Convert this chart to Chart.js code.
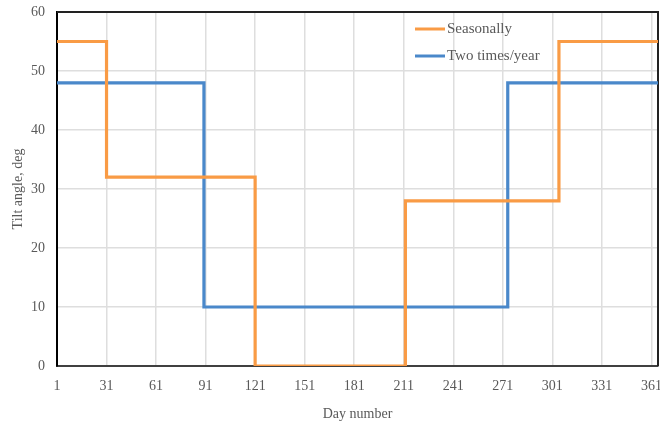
<!DOCTYPE html>
<html>
<head>
<meta charset="utf-8">
<script src="https://cdn.jsdelivr.net/npm/chart.js@4/dist/chart.umd.min.js"></script>
<style>
  html, body { margin: 0; padding: 0; background: #fff; }
  #wrap { width: 660px; height: 423px; }
</style>
</head>
<body>
<div id="wrap"><canvas id="tilt"></canvas></div>
<script>
// day where each step starts, and the tilt angle held from that day on
const seasonalDays = [1, 31, 121, 212, 305, 365];
const seasonalTilt = [55, 32, 0, 28, 55, 55];
const twiceDays = [1, 90, 274, 365];
const twiceTilt = [48, 10, 48, 48];
const xTicks = [1, 31, 61, 91, 121, 151, 181, 211, 241, 271, 301, 331, 361];

const serif = "'Liberation Serif', 'DejaVu Serif', serif";
const gray = "#595959";

function toPoints(days, vals) {
    return days.map((d, i) => ({x: d, y: vals[i]}));
}

// labels may hang over the plot edges, so drop the extra padding
function noOverhang(s) {
    s.paddingLeft = 0;
    s.paddingRight = 0;
    s.paddingTop = 0;
    s.paddingBottom = 0;
}

// frame on top and right plus the legend inside the plot
const frame = {
    id: "frame",
    beforeDatasetsDraw(chart) {
        const {ctx, chartArea: a} = chart;
        ctx.save();
        ctx.lineWidth = 2;
        ctx.strokeStyle = "#222";
        ctx.beginPath();
        ctx.moveTo(a.left, a.top);
        ctx.lineTo(a.right, a.top);
        ctx.lineTo(a.right, a.bottom);
        ctx.stroke();
        ctx.restore();
    },
    afterDraw(chart) {
        const ctx = chart.ctx;
        ctx.save();
        ctx.font = "15px " + serif;
        ctx.textBaseline = "middle";
        chart.data.datasets.forEach((ds, i) => {
            const y = 29 + i * 27;
            ctx.strokeStyle = ds.borderColor;
            ctx.lineWidth = 3;
            ctx.beginPath();
            ctx.moveTo(415, y);
            ctx.lineTo(445, y);
            ctx.stroke();
            ctx.fillStyle = gray;
            ctx.fillText(ds.label, 447, y);
        });
        ctx.restore();
    }
};

new Chart(document.querySelector("#tilt"), {
    type: "line",
    data: {
        datasets: [{
            label: "Seasonally",
            data: toPoints(seasonalDays, seasonalTilt),
            borderColor: "#F99B45",
            borderWidth: 3.2,
            stepped: true,
            pointRadius: 0
        }, {
            label: "Two times/year",
            data: toPoints(twiceDays, twiceTilt),
            borderColor: "#4A88CA",
            borderWidth: 3.2,
            stepped: true,
            pointRadius: 0
        }]
    },
    options: {
        responsive: true,
        maintainAspectRatio: false,
        animation: false,
        layout: {padding: {top: 12, right: 2, left: 0, bottom: 0}},
        plugins: {
            legend: {display: false},
            tooltip: {enabled: false}
        },
        scales: {
            x: {
                type: "linear",
                min: 1,
                max: 365,
                afterBuildTicks: s => { s.ticks = xTicks.map(v => ({value: v})); },
                afterFit: s => { s.height = 57; noOverhang(s); },
                grid: {color: "#dedede", lineWidth: 1.5, drawTicks: false},
                border: {color: "#404040", width: 2},
                ticks: {
                    color: gray,
                    padding: 12,
                    maxRotation: 0,
                    autoSkip: false,
                    font: {family: serif, size: 14}
                },
                title: {
                    display: true,
                    text: "Day number",
                    color: gray,
                    padding: {top: 4, bottom: 0},
                    font: {family: serif, size: 14}
                }
            },
            y: {
                min: 0,
                max: 60,
                afterFit: s => { s.width = 57; noOverhang(s); },
                grid: {color: "#dedede", lineWidth: 1.5, drawTicks: false},
                border: {color: "#000", width: 2},
                ticks: {
                    stepSize: 10,
                    color: gray,
                    padding: 12,
                    font: {family: serif, size: 14}
                },
                title: {
                    display: true,
                    text: "Tilt angle, deg",
                    color: gray,
                    padding: {top: 10, bottom: 0},
                    font: {family: serif, size: 14}
                }
            }
        }
    },
    plugins: [frame]
});
</script>
</body>
</html>
